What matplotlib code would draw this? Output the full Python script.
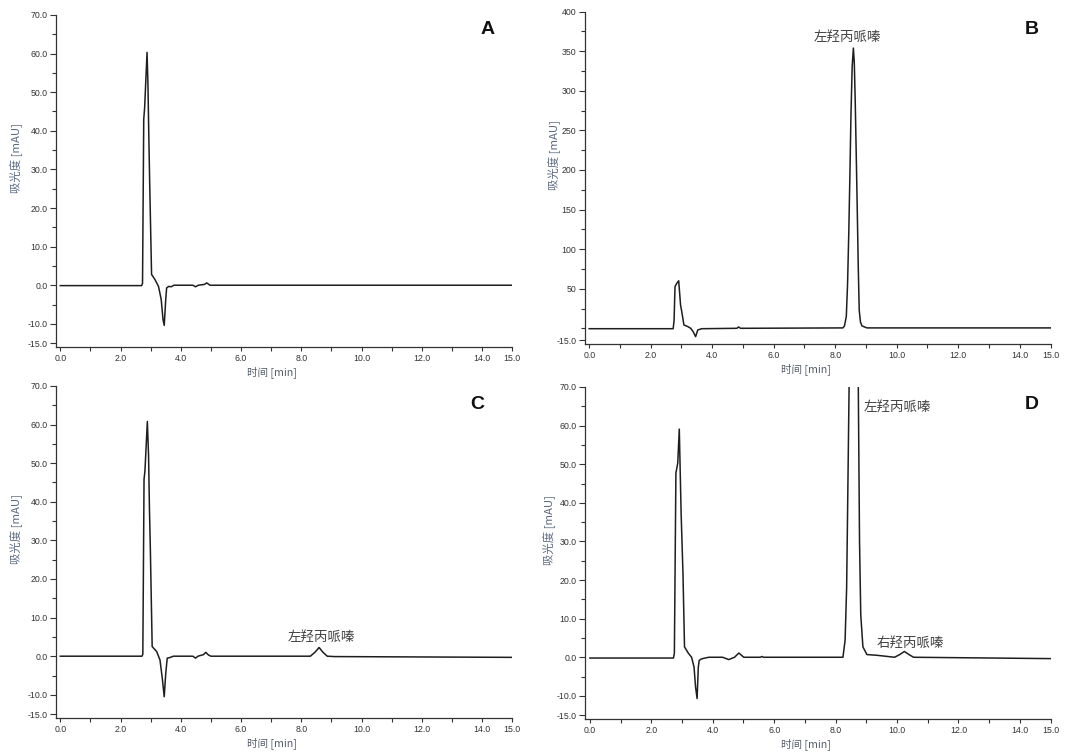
import matplotlib
matplotlib.use("Agg")
import matplotlib.pyplot as plt
import numpy as np

plt.rcParams['font.family'] = ['Liberation Sans', 'Noto Sans CJK SC', 'DejaVu Sans']

# chromatogram traces (time [min], absorbance [mAU])
a_t = [0.0, 2.70, 2.73, 2.77, 2.80, 2.88, 2.91, 2.94, 2.97, 3.03, 3.14, 3.26, 3.35, 3.41, 3.45,
       3.50, 3.53, 3.60, 3.68, 3.77, 4.40, 4.49, 4.58, 4.78, 4.86, 4.97, 15.0]
a_v = [-0.1, -0.1, 0.5, 43, 46, 60.3, 52, 38, 25.6, 2.8, 1.5, -0.3, -3.7, -8.9, -10.4,
       -3.7, -0.7, -0.3, -0.4, 0, 0, -0.4, 0, 0.2, 0.6, 0, 0]

b_t = [0.0, 2.73, 2.76, 2.79, 2.85, 2.91, 2.97, 3.01, 3.08, 3.21, 3.30, 3.38, 3.46, 3.53, 3.66,
       4.80, 4.86, 4.92, 8.25, 8.30, 8.36, 8.40, 8.44, 8.48, 8.51, 8.55, 8.59, 8.62, 8.65,
       8.69, 8.72, 8.75, 8.78, 8.82, 8.87, 9.03, 15.0]
b_v = [-0.5, -0.5, 10, 52.6, 57, 60, 29.5, 21, 4.2, 2.1, 0, -4.2, -10.5, -2.1, -0.5,
       0, 1.7, 0, 0.5, 3, 15, 55, 120, 200, 267, 330, 354, 335, 287,
       205, 141, 75, 23, 8, 3, 0.5, 0.5]

c_t = [0.0, 2.71, 2.74, 2.78, 2.81, 2.89, 2.93, 2.96, 2.99, 3.05, 3.20, 3.31, 3.39, 3.45, 3.50,
       3.55, 3.66, 3.75, 4.40, 4.49, 4.57, 4.75, 4.83, 4.92, 5.00, 8.30, 8.45, 8.59, 8.72,
       8.86, 9.10, 15.0]
c_v = [0, 0, 0.5, 45.8, 48, 60.8, 52, 38, 27.6, 2.5, 1.2, -1.0, -6.0, -10.5, -4.5,
       -0.5, -0.3, 0, 0, -0.5, 0, 0.4, 1.0, 0.3, 0, 0, 1.0, 2.25, 1.0,
       0, -0.1, -0.3]

d_t = [0.0, 2.72, 2.75, 2.80, 2.86, 2.91, 2.97, 3.03, 3.08, 3.20, 3.31, 3.39, 3.44, 3.49, 3.53,
       3.56, 3.64, 3.87, 4.32, 4.52, 4.71, 4.85, 5.01, 5.55, 5.60, 5.65, 8.24, 8.31, 8.36,
       8.39, 8.44, 8.48, 8.55, 8.59, 8.63, 8.70, 8.74, 8.78, 8.82, 8.89, 9.02, 9.36, 9.92,
       10.09, 10.24, 10.37, 10.54, 15.0]
d_v = [-0.2, -0.2, 1, 47.7, 50.3, 59.1, 37.3, 21.7, 2.7, 1.1, 0, -2.5, -7.7, -10.7, -2.5,
       -0.8, -0.4, 0, 0, -0.6, 0, 1.1, 0, 0, 0.2, 0, 0, 4.4, 18,
       37, 70, 150, 300, 350, 300, 150, 70, 30, 11, 2.7, 0.7, 0.5, 0,
       0.7, 1.5, 0.8, 0, -0.35]

peak_l = "左羟丙哌嗪"
peak_r = "右羟丙哌嗪"

x_major = [0, 2, 4, 6, 8, 10, 12, 14, 15]
x_minor = [1, 3, 5, 7, 9, 11, 13]
y_major = [-15, -10, 0, 10, 20, 30, 40, 50, 60, 70]
y_minor = [-5, 5, 15, 25, 35, 45, 55, 65]
yb_major = [-15, 50, 100, 150, 200, 250, 300, 350, 400]
yb_minor = [0, 25, 75, 125, 175, 225, 275, 325, 375]

cjk = ['Noto Sans CJK SC', 'Liberation Sans']
line_c = '#1e1e1e'
tick_c = '#333333'

fig = plt.figure(figsize=(10.8, 7.56), dpi=100)
fig.patch.set_facecolor('white')

# name, t, v, [left, bottom, width, height], xlim low, ylim, is B, ylabel x, letter pos
panels = [
    ("A", a_t, a_v, [0.0519, 0.541, 0.4224, 0.4392], -0.14, (-16.0, 70), False, -0.089, (0.947, 0.955)),
    ("B", b_t, b_v, [0.5414, 0.545, 0.4313, 0.4396], -0.146, (-19.8, 400), True, -0.066, (0.959, 0.946)),
    ("C", c_t, c_v, [0.0519, 0.0503, 0.4224, 0.4392], -0.14, (-16.0, 70), False, -0.089, (0.923, 0.943)),
    ("D", d_t, d_v, [0.5414, 0.0489, 0.4313, 0.4392], -0.17, (-16.0, 70), False, -0.077, (0.959, 0.946)),
]

axes = {}
for name, t, v, pos, xlo, ylim, is_b, ylab_x, let in panels:
    ax = fig.add_axes(pos)
    ax.plot(t, v, color=line_c, lw=1.1)
    ax.set_xlim(xlo, 15.0)
    ax.set_ylim(*ylim)
    for s in ['top', 'right']:
        ax.spines[s].set_visible(False)
    for s in ['left', 'bottom']:
        ax.spines[s].set_color(tick_c)
        ax.spines[s].set_linewidth(0.9)
    ax.set_xticks(x_major)
    ax.set_xticks(x_minor, minor=True)
    ax.set_xticklabels(["%.1f" % x for x in x_major])
    if is_b:
        ax.set_yticks(yb_major)
        ax.set_yticks(yb_minor, minor=True)
        ax.set_yticklabels(["-15.0"] + [str(y) for y in yb_major[1:]])
    else:
        ax.set_yticks(y_major)
        ax.set_yticks(y_minor, minor=True)
        ax.set_yticklabels(["%.1f" % y for y in y_major])
    ax.tick_params(axis='both', which='both', colors=tick_c, labelsize=6.3,
                   width=0.8, direction='out', pad=2)
    ax.tick_params(axis='y', which='major', length=4)
    ax.tick_params(axis='y', which='minor', length=3)
    ax.tick_params(axis='x', which='both', length=3)
    ax.set_ylabel("吸光度 [mAU]", family=cjk, fontsize=8.2, color='#5d6b82', va='center')
    ax.yaxis.set_label_coords(ylab_x, 0.57)
    ax.set_xlabel("时间 [min]", family=cjk, fontsize=7.6, color='#555d6b', va='center')
    ax.xaxis.set_label_coords(0.474, -0.075)
    ax.text(let[0], let[1], name, transform=ax.transAxes, ha='center', va='center',
            fontsize=14, fontweight='bold', color='#111111')
    axes[name] = ax

axes["B"].text(8.40, 367, peak_l, family=cjk, fontsize=9.7, color='#444444',
               ha='center', va='center')
axes["C"].text(8.66, 4.75, peak_l, family=cjk, fontsize=9.7, color='#444444',
               ha='center', va='center')
axes["D"].text(10.0, 64.7, peak_l, family=cjk, fontsize=9.7, color='#444444',
               ha='center', va='center')
axes["D"].text(10.42, 3.6, peak_r, family=cjk, fontsize=9.7, color='#444444',
               ha='center', va='center')

fig.savefig("out.png", dpi=100)
